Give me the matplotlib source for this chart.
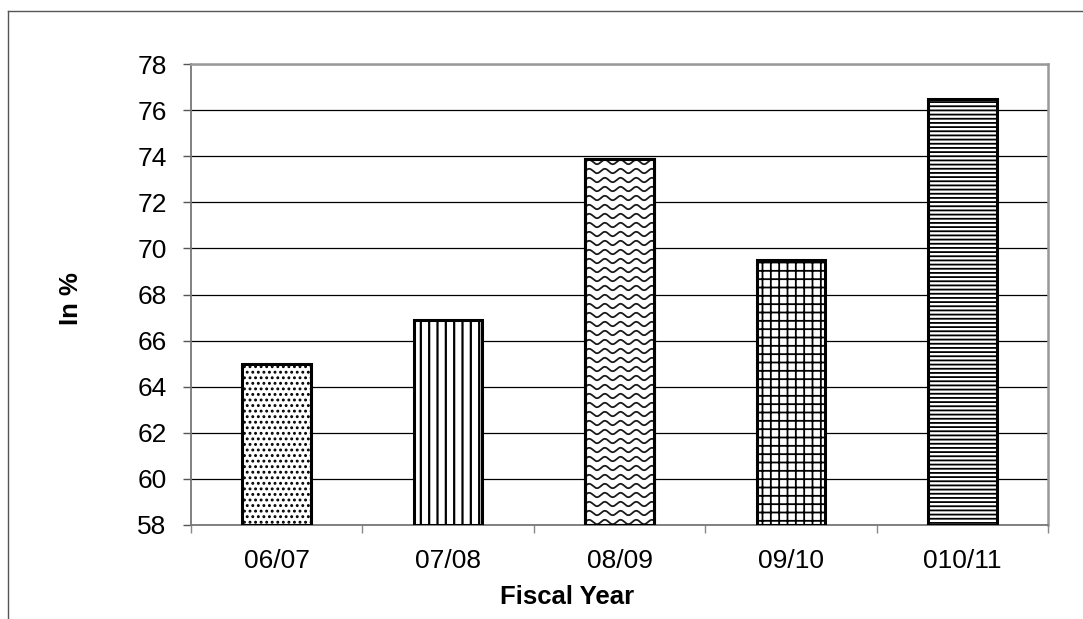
import numpy as np
import matplotlib
matplotlib.use("Agg")
import matplotlib.pyplot as plt
from matplotlib.lines import Line2D
from matplotlib.transforms import IdentityTransform

plt.rcParams['font.family'] = ['Liberation Sans', 'DejaVu Sans']

# fiscal year shares (in %)
years = ['06/07', '07/08', '08/09', '09/10', '010/11']
shares = [65.0, 66.9, 73.9, 69.5, 76.5]
hatches = ['...', '||', None, '++', '----']   # None -> wavy fill drawn by hand
hatch_widths = [1.3, 1.6, None, 1.3, 1.3]
y_ticks = list(range(58, 80, 2))

W, H, DPI = 1083, 619, 100
fig = plt.figure(figsize=(W / DPI, H / DPI), dpi=DPI)
ax = fig.add_axes([191 / W, 1 - 525 / H, (1048 - 191) / W, (525 - 64) / H])

x = np.arange(len(years))
ax.set_xlim(-0.5, len(years) - 0.5)
ax.set_ylim(58, 78)

bars = ax.bar(x, [v - 58 for v in shares], bottom=58, width=0.40,
              color='white', edgecolor='black', linewidth=2.2, zorder=3)
for b, h, hw in zip(bars, hatches, hatch_widths):
    if h:
        b.set_hatch(h)
        if hasattr(b, 'set_hatch_linewidth'):
            b.set_hatch_linewidth(hw)

# wavy hatch for the 08/09 bar, built in pixel space and clipped to the bar
wave_bar = bars[2]
(px0, py0), (px1, py1) = ax.transData.transform(
    [(wave_bar.get_x(), wave_bar.get_y()),
     (wave_bar.get_x() + wave_bar.get_width(), wave_bar.get_y() + wave_bar.get_height())])
xs = np.arange(px0 - 2, px1 + 2, 0.5)
row = py0 + 3
while row < py1 + 6:
    ln = Line2D(xs, row + 2.2 * np.sin(2 * np.pi * (xs - px0) / 15.7),
                color='#1a1a1a', linewidth=1.3, transform=IdentityTransform(), zorder=4)
    ax.add_line(ln)
    ln.set_clip_path(wave_bar)
    row += 9.0
# redraw the outline on top of the waves
ax.bar(x[2], shares[2] - 58, bottom=58, width=0.40, fill=False,
       edgecolor='black', linewidth=2.2, zorder=5)

# gridlines
ax.set_yticks(y_ticks)
ax.grid(axis='y', color='black', linewidth=0.9, zorder=1)
ax.set_axisbelow(True)

ax.tick_params(axis='y', labelsize=19, length=6, width=1, pad=11.5,
               color='#555555', direction='out')
ax.set_xticks(x)
ax.set_xticklabels(years)
ax.set_xticks(np.arange(-0.5, len(years), 1.0), minor=True)
ax.tick_params(axis='x', which='major', length=0, labelsize=19, pad=17)
ax.tick_params(axis='x', which='minor', length=6, width=1, color='#888888', direction='out')

for side in ['left', 'bottom']:
    ax.spines[side].set_color('#777777')
    ax.spines[side].set_linewidth(1.3)
for side in ['top', 'right']:
    ax.spines[side].set_color('#999999')
    ax.spines[side].set_linewidth(1.8)

ax.set_xlabel('Fiscal Year', fontsize=18.5, fontweight='bold')
ax.xaxis.set_label_coords((567 - 191) / (1048 - 191), (525 - 585) / (525 - 64))
ax.xaxis.label.set_va('top')
ax.set_ylabel('In %', fontsize=18.5, fontweight='bold')
ax.yaxis.set_label_coords((83 - 191) / (1048 - 191), (525 - 299) / (525 - 64))

# outer chart frame (left and top edges)
fig.add_artist(Line2D([8 / W, 8 / W], [0, 1 - 11 / H], color='#555555', linewidth=1.0))
fig.add_artist(Line2D([8 / W, 1], [1 - 11 / H, 1 - 11 / H], color='#555555', linewidth=1.0))

fig.savefig('out.png', dpi=DPI)
